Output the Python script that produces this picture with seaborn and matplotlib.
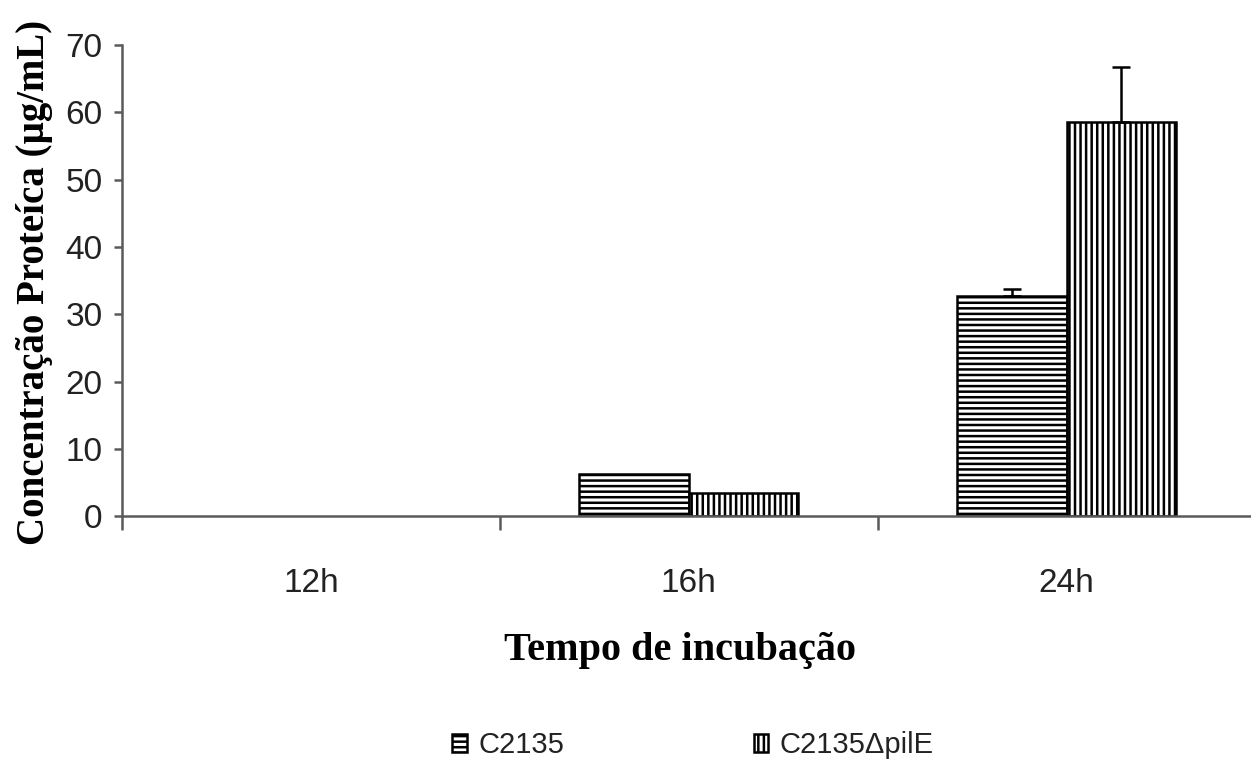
import numpy as np
import pandas as pd
import matplotlib
matplotlib.use("Agg")
import matplotlib.pyplot as plt
from matplotlib.container import BarContainer
import seaborn as sns

# ---- data ----
times = ["12h", "16h", "24h"]
strains = ["C2135", "C2135ΔpilE"]
c2135 = [0.0, 6.2, 32.7]
c2135_err = [0.0, 0.0, 1.0]
pile = [0.0, 3.4, 58.6]
pile_err = [0.0, 0.0, 8.1]
yticks = [0, 10, 20, 30, 40, 50, 60, 70]

df = pd.DataFrame({
    "time": times * 2,
    "value": c2135 + pile,
    "strain": [strains[0]] * 3 + [strains[1]] * 3,
})
errs = [c2135_err, pile_err]

sns.set_theme(style="white")
plt.rcParams["hatch.linewidth"] = 1.8
plt.rcParams["hatch.color"] = "black"

sans = ["Liberation Sans Narrow", "Liberation Sans", "DejaVu Sans"]
serif = ["Liberation Serif", "DejaVu Serif"]

fig = plt.figure(figsize=(12.51, 7.59), dpi=100)
ax = fig.add_axes([0.0975, 0.320, 0.9061, 0.6207])

sns.barplot(data=df, x="time", y="value", hue="strain", order=times,
            hue_order=strains, palette=["white", "white"], edgecolor="black",
            linewidth=1.8, width=0.58, gap=0, errorbar=None, legend=False,
            saturation=1, ax=ax)

bar_conts = [c for c in ax.containers if isinstance(c, BarContainer)]
hatches = ["---", "|||"]
legend_handles = []
for cont, h, e in zip(bar_conts, hatches, errs):
    xs, ys, es = [], [], []
    for p, err in zip(cont.patches, e):
        p.set_hatch(h)
        p.set_edgecolor("black")
        if p.get_height() == 0:
            # zero-height bar: hide so the gray axis stays visible
            p.set_visible(False)
        if err > 0:
            xs.append(p.get_x() + p.get_width() / 2)
            ys.append(p.get_height())
            es.append(err)
    legend_handles.append(cont.patches[-1])
    if xs:
        ax.errorbar(xs, ys, yerr=[np.zeros(len(es)), es], fmt="none",
                    ecolor="black", elinewidth=1.8, capsize=6.5, capthick=1.8,
                    zorder=5)

ax.set_xlim(-0.5, 2.5)
ax.set_ylim(0, 70)
ax.set_yticks(yticks)
ax.set_yticklabels([str(v) for v in yticks], family=sans, fontsize=24,
                   color="#222222")
ax.set_xticks(range(len(times)))
ax.set_xticklabels(times, family=sans, fontsize=24, color="#222222")
ax.set_xticks([-0.5, 0.5, 1.5, 2.5], minor=True)

spine_c = "#5a5a5a"
for s in ["top", "right"]:
    ax.spines[s].set_visible(False)
for s in ["left", "bottom"]:
    ax.spines[s].set_color(spine_c)
    ax.spines[s].set_linewidth(1.8)

ax.tick_params(axis="y", which="major", direction="out", length=6, width=1.8,
               color=spine_c, pad=8, left=True)
ax.tick_params(axis="x", which="major", length=0, pad=37)
ax.tick_params(axis="x", which="minor", direction="out", length=10, width=1.8,
               color=spine_c, bottom=True)

ax.set_xlabel("Tempo de incubação", family=serif, fontweight="bold",
              fontsize=29, color="black")
ax.xaxis.set_label_coords(0.492, -0.2845)
ax.xaxis.label.set_va("center")
ax.set_ylabel("Concentração Proteíca (µg/mL)", family=serif,
              fontweight="bold", fontsize=28, color="black")
ax.yaxis.label.set_va("center")
ax.yaxis.set_label_coords(-0.0768, 0.495)

fig.legend(handles=legend_handles, labels=strains, loc="center",
           bbox_to_anchor=(0.554, 0.0184), ncol=2, frameon=False,
           prop={"family": sans, "size": 21}, handlelength=0.5,
           handleheight=0.55, handletextpad=0.4, columnspacing=6.5,
           labelcolor="#222222")

fig.savefig("out.png", dpi=100)
